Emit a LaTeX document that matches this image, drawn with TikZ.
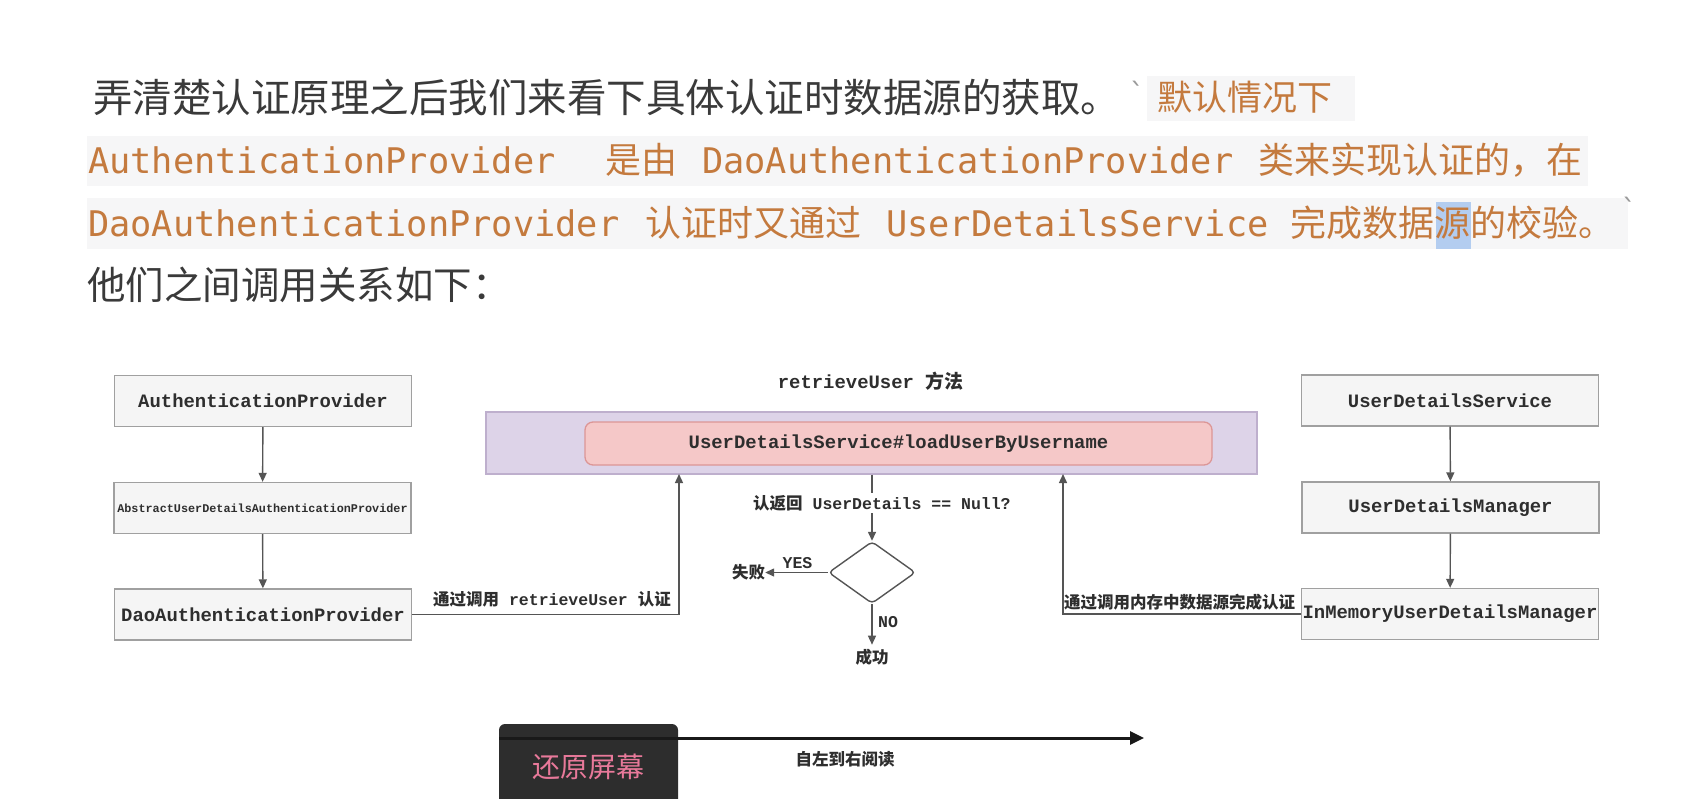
\documentclass[tikz,border=0pt]{standalone}
\usepackage{fontspec}
\usetikzlibrary{arrows.meta,shapes.geometric,calc}
\newfontfamily\cjk{Noto Sans CJK SC}
\newfontfamily\tmono{DejaVu Sans Mono}
\newfontfamily\bmono{Liberation Mono}
\newcommand\fsz[1]{\fontsize{#1}{#1}\selectfont}
\definecolor{txt}{HTML}{3A3A3A}
\definecolor{org}{HTML}{C47A3E}
\definecolor{band}{HTML}{F6F6F7}
\definecolor{selblue}{HTML}{B3CDF0}
\definecolor{tick}{HTML}{9A9A9A}
\definecolor{boxfill}{HTML}{F5F5F5}
\definecolor{boxline}{HTML}{A0A0A0}
\definecolor{dtext}{HTML}{2E2E2E}
\definecolor{conn}{HTML}{555555}
\definecolor{purplefill}{HTML}{DDD3E8}
\definecolor{purpleline}{HTML}{BEAFCD}
\definecolor{pinkfill}{HTML}{F5C8C8}
\definecolor{pinkline}{HTML}{DC9696}
\definecolor{btnfill}{HTML}{2D2D2D}
\definecolor{btntext}{HTML}{E8799A}
\begin{document}
\begin{tikzpicture}[x=1pt,y=-1pt,
  tl/.style={anchor=base west, inner sep=0pt},
  orgmono/.style={tl, font=\tmono\fsz{35.3}, text=org},
  orgcjk/.style={tl, font=\cjk\fsz{36}, text=org},
  box/.style={draw=boxline, fill=boxfill, line width=1.3pt, minimum width=297pt,
    minimum height=51pt, inner sep=0pt, font=\bmono\bfseries\fsz{18.9}, text=dtext},
  conn/.style={draw=conn, line width=1.4pt, -{Triangle[width=8pt,length=9pt]}},
  lbl/.style={font=\cjk\bfseries\fsz{16.5}, text=dtext, inner sep=0pt},
  mlbl/.style={font=\bmono\bfseries\fsz{16.5}, text=dtext, inner sep=0pt}]
\useasboundingbox (0,0) rectangle (1700,798);
\fill[white] (0,0) rectangle (1700,798);

% ---------- top text ----------
\fill[band] (1147,76) rectangle (1355,121);
\fill[band] (87,136) rectangle (1588,186);
\fill[band] (87,198) rectangle (1628,249);
\fill[selblue] (1436,202) rectangle (1471,249);

\node[tl, font=\cjk\fsz{39.5}, text=txt] (l1a) at (93,112) {弄清楚认证原理之后我们来看下具体认证时数据源的获取。};
\node[font=\tmono\fsz{28}, text=tick, inner sep=0pt] (l1t) at (1137,92) {`};
\node[tl, font=\cjk\fsz{35}, text=org] (l1b) at (1157,110) {默认情况下};

\node[orgmono] (l2a) at (88,173) {AuthenticationProvider};
\node[orgcjk] (l2b) at (605,173) {是由};
\node[orgmono] (l2c) at (702,173) {DaoAuthenticationProvider};
\node[orgcjk] (l2d) at (1258,173) {类来实现认证的，在};

\node[orgmono] (l3a) at (88,236) {DaoAuthenticationProvider};
\node[orgcjk] (l3b) at (645,236) {认证时又通过};
\node[orgmono] (l3c) at (886,236) {UserDetailsService};
\node[orgcjk] (l3d) at (1290,236) {完成数据源的校验。};
\node[font=\tmono\fsz{28}, text=tick, inner sep=0pt] (l3t) at (1629,208) {`};

\node[tl, font=\cjk\fsz{38.5}, text=txt] (l4) at (87,299) {他们之间调用关系如下：};

% ---------- diagram ----------
\node[box] (ap) at (263,401) {AuthenticationProvider};
\node[box, font=\bmono\bfseries\fsz{11.8}] (ab) at (262.5,508) {AbstractUserDetailsAuthenticationProvider};
\node[box] (dao) at (263,614.5) {DaoAuthenticationProvider};

\node[box] (uds) at (1450,400.5) {UserDetailsService};
\node[box] (udm) at (1450.5,507.5) {UserDetailsManager};
\node[box] (im) at (1450,614) {InMemoryUserDetailsManager};

\draw[conn] (ap) -- (ab);
\draw[conn] (ab) -- (dao);
\draw[conn] (uds) -- (udm);
\draw[conn] (udm) -- (im);

\node[font=\fsz{18.9}, text=dtext, inner sep=0pt] (title) at (870.5,381)
  {{\bmono\bfseries retrieveUser\ }{\cjk\bfseries 方法}};
\node[draw=purpleline, fill=purplefill, line width=1.3pt, minimum width=771pt,
  minimum height=62pt, inner sep=0pt] (ret) at (871.5,443) {};
\node[draw=pinkline, fill=pinkfill, line width=1.3pt, rounded corners=8pt,
  minimum width=627pt, minimum height=43pt, inner sep=0pt,
  font=\bmono\bfseries\fsz{18.9}, text=dtext] (load) at (898.5,443.5)
  {UserDetailsService\#loadUserByUsername};

\node[draw=conn, line width=1.4pt, diamond, minimum width=87pt, minimum height=62pt,
  inner sep=0pt, rounded corners=4pt] (dia) at (872,572.5) {};
\node[lbl] (fail) at (748.5,572.5) {失败};
\node[lbl, inner sep=4pt] (ok) at (872,657) {成功};

\coordinate (pinL) at (679,474);
\coordinate (pinR) at (1063,474);
\draw[conn] (dao.east) -| (pinL);
\draw[conn] (im.west) -| (pinR);
\draw[conn] (ret.south -| dia.north) -- (dia.north);
\draw[conn] (dia.west) -- (fail.east);
\draw[conn] (dia.south) -- (ok.north);

\node[fill=white, anchor=base west, inner sep=2pt, font=\fsz{16.5}, text=dtext] (q) at (751,509)
  {{\cjk\bfseries 认返回}{\bmono\bfseries\ UserDetails == Null?}};
\node[mlbl] (yes) at (797.5,563) {YES};
\node[mlbl, anchor=west] (no) at (878,622) {NO};
\node[anchor=base east, inner sep=0pt, font=\fsz{16.5}, text=dtext] (lblL) at (671,605)
  {{\cjk\bfseries 通过调用}{\bmono\bfseries\ retrieveUser\ }{\cjk\bfseries 认证}};
\node[lbl, anchor=base west] (lblR) at (1064,608) {通过调用内存中数据源完成认证};

% ---------- bottom ----------
\node[fill=btnfill, rounded corners=6pt, minimum width=179pt, minimum height=86pt,
  inner sep=0pt, font=\cjk\fsz{28}, text=btntext] (btn) at (588.5,767) {还原屏幕};
\coordinate (rs) at (499,738);
\coordinate (re) at (1144,738);
\draw[draw=black!90, line width=3pt, -{Triangle[width=13pt,length=14pt]}] (rs) -- (re);
\node[lbl] (read) at (845,759) {自左到右阅读};
\end{tikzpicture}
\end{document}
